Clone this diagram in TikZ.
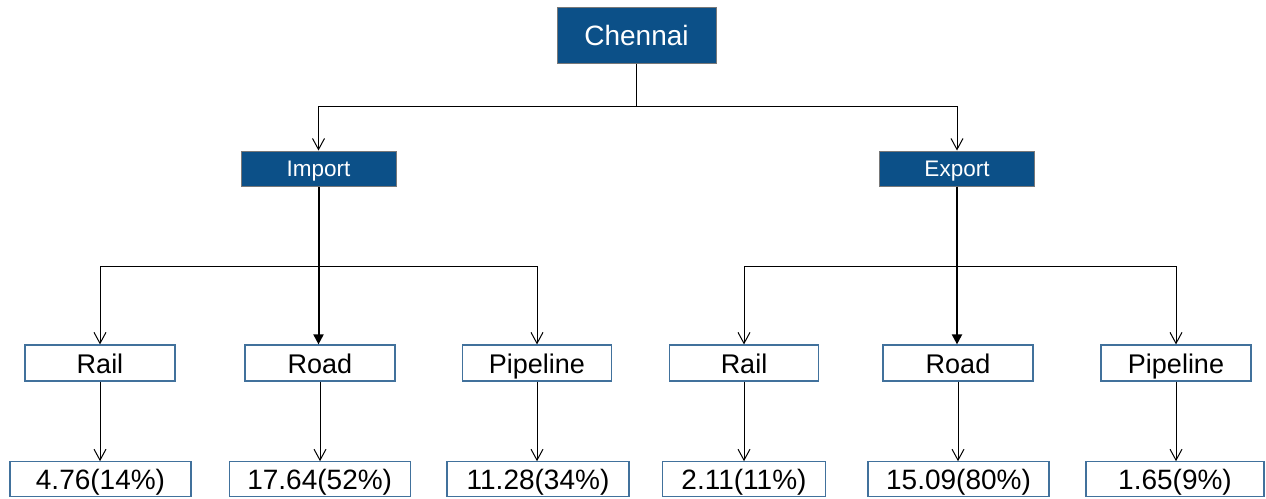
\documentclass[tikz,border=0pt]{standalone}
\usepackage{fontspec}
\setmainfont{Liberation Sans}
\usetikzlibrary{arrows.meta}
\definecolor{darkbox}{RGB}{12,80,136}
\definecolor{darkedge}{RGB}{120,120,120}
\definecolor{lightedge}{RGB}{65,113,156}
\begin{document}
\begin{tikzpicture}[x=1pt,y=-1pt,
  topbox/.style={draw=darkedge,line width=1pt,fill=darkbox,text=white,inner sep=0pt,
    minimum width=159pt,minimum height=56pt,font=\fontsize{28}{30}\selectfont,
    text height=20.2pt,text depth=0pt},
  midbox/.style={draw=darkedge,line width=1pt,fill=darkbox,text=white,inner sep=0pt,
    minimum width=155pt,minimum height=35pt,font=\fontsize{22.5}{24}\selectfont,
    text height=16.4pt,text depth=0pt},
  catbox/.style={draw=lightedge,line width=1.2pt,fill=white,text=black,inner sep=0pt,
    minimum width=149pt,minimum height=36pt,font=\fontsize{27}{29}\selectfont,
    text height=20.6pt,text depth=0pt},
  valbox/.style={draw=lightedge,line width=1.2pt,fill=white,text=black,inner sep=0pt,
    minimum height=35pt,font=\fontsize{28}{30}\selectfont,
    text height=21.2pt,text depth=0pt},
  arr/.style={draw=black,line width=1pt,-{Straight Barb[length=11pt,width=12pt,line width=1pt]}},
  thickarr/.style={draw=black,line width=2pt,-{Triangle[length=10pt,width=10pt]}}
]
\useasboundingbox (0,0) rectangle (1266,498);
\fill[white] (0,0) rectangle (1266,498);

\node[topbox] (chennai) at (636.5,35) {Chennai};
\node[midbox] (import) at (318.5,168.5) {Import};
\node[midbox] (export) at (957,168.5) {Export};

\node[catbox,minimum width=150pt] (rail1) at (100,363) {Rail};
\node[catbox,minimum width=150pt] (road1) at (320,363) {Road};
\node[catbox] (pipe1) at (537,363) {Pipeline};
\node[catbox] (rail2) at (744,363) {Rail};
\node[catbox,minimum width=150pt] (road2) at (958,363) {Road};
\node[catbox,minimum width=150pt] (pipe2) at (1176,363) {Pipeline};

\node[valbox,minimum width=181pt] (v1) at (100.5,479.3) {4.76(14\%)};
\node[valbox,minimum width=181pt] (v2) at (319.7,479.3) {17.64(52\%)};
\node[valbox,minimum width=182pt] (v3) at (538,479.3) {11.28(34\%)};
\node[valbox,minimum width=163pt] (v4) at (744,479.3) {2.11(11\%)};
\node[valbox,minimum width=181pt] (v5) at (958.5,479.3) {15.09(80\%)};
\node[valbox,minimum width=178pt] (v6) at (1175,479.3) {1.65(9\%)};

% Chennai to Import / Export
\draw[arr] (chennai.south) -- (chennai.south |- 0,106) -| (import.north);
\draw[arr] (chennai.south) -- (chennai.south |- 0,106) -| (export.north);

% Import branches
\draw[arr] (import.south) -- (import.south |- 0,266) -| (rail1.north);
\draw[arr] (import.south) -- (import.south |- 0,266) -| (pipe1.north);
\draw[thickarr] (import.south) -- (import.south |- road1.north);

% Export branches
\draw[arr] (export.south) -- (export.south |- 0,266) -| (rail2.north);
\draw[arr] (export.south) -- (export.south |- 0,266) -| (pipe2.north);
\draw[thickarr] (export.south) -- (export.south |- road2.north);

% values
\draw[arr] (rail1.south) -- (rail1.south |- v1.north);
\draw[arr] (road1.south) -- (road1.south |- v2.north);
\draw[arr] (pipe1.south) -- (pipe1.south |- v3.north);
\draw[arr] (rail2.south) -- (rail2.south |- v4.north);
\draw[arr] (road2.south) -- (road2.south |- v5.north);
\draw[arr] (pipe2.south) -- (pipe2.south |- v6.north);
\end{tikzpicture}
\end{document}
